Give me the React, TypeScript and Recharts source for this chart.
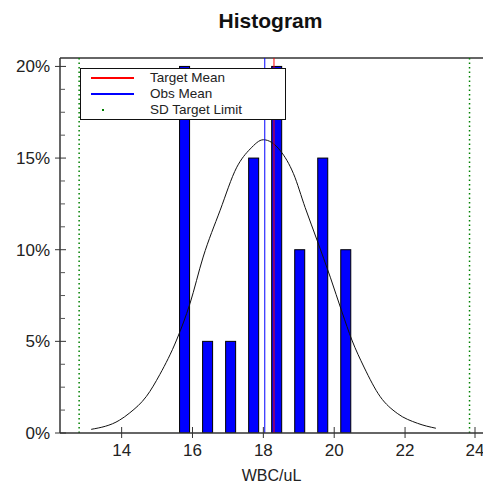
import {
  ComposedChart,
  Bar,
  Line,
  XAxis,
  YAxis,
  ReferenceLine,
} from 'recharts';

// histogram bins (WBC/uL) and share of results in each
const binCenters = [15.77, 16.42, 17.07, 17.72, 18.37, 19.02, 19.67, 20.32];
const binPct = [20, 5, 5, 15, 20, 10, 15, 10];

// fitted normal curve
const curveX = [13.14, 13.94, 14.23, 14.7, 15.08, 15.55, 15.93, 16.3, 16.78, 17.25, 17.63, 18.0, 18.48, 18.85, 19.18, 19.52, 19.89, 20.22, 20.5, 20.84, 21.3, 21.78, 22.35, 22.87];
const curvePct = [0.2, 0.7, 1.1, 2.0, 3.2, 5.07, 7.07, 9.6, 12.15, 14.5, 15.5, 16.0, 15.4, 14.15, 12.3, 10.5, 8.5, 6.6, 5.07, 3.6, 1.98, 1.07, 0.53, 0.26];

const targetMean = 18.3;
const obsMean = 18.04;
const sdLimits = [12.8, 23.82];

const xTicks = [14, 16, 18, 20, 22, 24];
const yTicks = [0, 1.25, 2.5, 3.75, 5, 6.25, 7.5, 8.75, 10, 11.25, 12.5, 13.75, 15, 16.25, 17.5, 18.75, 20];
const xDomain = [12.26, 24.2];
const yMax = 20.46;

const legendItems = [
  { label: 'Target Mean', color: '#ff0000', kind: 'line' },
  { label: 'Obs Mean', color: '#0000ff', kind: 'line' },
  { label: 'SD Target Limit', color: '#008000', kind: 'dot' },
];

const font = '"Liberation Sans", Arial, sans-serif';
const BAR_W = 10;

const bins = binCenters.map((x, i) => ({ x, pct: binPct[i] }));
const curve = curveX.map((x, i) => ({ x, curve: curvePct[i] }));

// recharts squeezes bars on a number axis, so draw a fixed width around the bar's centre
const BinBar = ({ x, y, width, height }: any) => {
  if (!height) return null;
  const cx = x + width / 2;
  return <rect x={cx - BAR_W / 2} y={y} width={BAR_W} height={height} fill="#0000ff" stroke="#000" strokeWidth={1} />;
};

const YTick = ({ x, y, payload }: any) => {
  const major = payload.value % 5 === 0;
  return (
    <g>
      {major ? (
        <>
          <line x1={x - 5} x2={x + 6} y1={y} y2={y} stroke="#333" />
          <text x={x - 10} y={y + 6} textAnchor="end" fontSize={17} fill="#222" fontFamily={font}>
            {payload.value}%
          </text>
        </>
      ) : (
        <line x1={x} x2={x + 5} y1={y} y2={y} stroke="#555" />
      )}
    </g>
  );
};

const XTick = ({ x, y, payload }: any) => (
  <g>
    <line x1={x} x2={x} y1={y - 6} y2={y + 5} stroke="#333" />
    <text x={x} y={y + 23} textAnchor="middle" fontSize={17} fill="#222" fontFamily={font}>
      {payload.value}
    </text>
  </g>
);

export default function App() {
  return (
    <div style={{ position: 'relative', width: 483, height: 484, background: '#fff' }}>
      <style>{'body{margin:0}'}</style>
      <div
        style={{
          position: 'absolute',
          left: 0,
          width: 541,
          top: 9,
          textAlign: 'center',
          fontFamily: font,
          fontWeight: 'bold',
          fontSize: 21,
          color: '#111',
        }}
      >
        Histogram
      </div>
      <ComposedChart width={483} height={484} data={bins} margin={{ top: 58, right: 0, bottom: 21, left: 0 }}>
        <XAxis
          dataKey="x"
          type="number"
          domain={xDomain}
          allowDataOverflow
          ticks={xTicks}
          tick={<XTick />}
          tickLine={false}
          tickSize={0}
          tickMargin={0}
          height={30}
          axisLine={{ stroke: '#333', strokeWidth: 1.5 }}
          label={{ value: 'WBC/uL', position: 'insideBottom', offset: -18, fontSize: 16, fill: '#222', fontFamily: font }}
        />
        <YAxis
          type="number"
          domain={[0, yMax]}
          allowDataOverflow
          ticks={yTicks}
          tick={<YTick />}
          tickLine={false}
          tickSize={0}
          tickMargin={0}
          width={60}
          interval={0}
          axisLine={{ stroke: '#333', strokeWidth: 1.5 }}
        />
        <ReferenceLine y={yMax} stroke="#333" strokeWidth={1.5} />
        {sdLimits.map((v) => (
          <ReferenceLine key={v} x={v} stroke="#008000" strokeWidth={1.5} strokeDasharray="1.5 3" />
        ))}
        <Bar dataKey="pct" fill="#0000ff" shape={<BinBar />} isAnimationActive={false} />
        <Line
          data={curve}
          type="monotone"
          dataKey="curve"
          stroke="#111"
          strokeWidth={1}
          dot={false}
          isAnimationActive={false}
        />
        <ReferenceLine x={obsMean} stroke="#0000ff" strokeWidth={1} />
        <ReferenceLine x={targetMean} stroke="#ff0000" strokeWidth={1} />
      </ComposedChart>
      <div
        style={{
          position: 'absolute',
          left: 80,
          top: 68,
          width: 204,
          height: 50,
          border: '1.5px solid #111',
          background: '#fff',
          fontFamily: font,
          fontSize: 13.5,
          color: '#222',
        }}
      >
        {legendItems.map((item, i) => (
          <div key={item.label} style={{ position: 'absolute', left: 0, top: 1 + i * 16, height: 16, width: '100%' }}>
            {item.kind === 'line' ? (
              <div style={{ position: 'absolute', left: 10, top: 7, width: 43, height: 2, background: item.color }} />
            ) : (
              <div style={{ position: 'absolute', left: 21, top: 7, width: 2, height: 2, background: item.color }} />
            )}
            <span style={{ position: 'absolute', left: 69, top: 0, lineHeight: '16px' }}>{item.label}</span>
          </div>
        ))}
      </div>
    </div>
  );
}
